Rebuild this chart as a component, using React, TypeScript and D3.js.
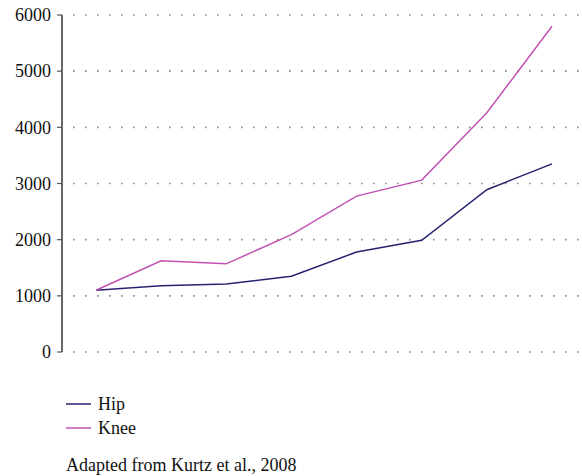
import React from 'react';
import * as d3 from 'd3';

const steps = [1, 2, 3, 4, 5, 6, 7, 8];
const hip = [1100, 1180, 1210, 1350, 1780, 1990, 2890, 3350];
const knee = [1100, 1625, 1570, 2090, 2775, 3060, 4260, 5800];
const yTicks = [0, 1000, 2000, 3000, 4000, 5000, 6000];
const seriesNames = ['Hip', 'Knee'];
const seriesColors = ['#26246f', '#c253b3'];

const width = 582;
const height = 476;
const font = "'Times New Roman', Times, Tinos, 'Liberation Serif', 'Noto Serif', 'DejaVu Serif', serif";

export default function App() {
  const x = d3.scalePoint<number>().domain(steps).range([96, 552]);
  const y = d3.scaleLinear().domain([0, 6000]).range([352, 15]);

  const line = d3
    .line<number>()
    .x((_, i) => x(steps[i]) as number)
    .y((d) => y(d));

  const series = [hip, knee];
  const txt: React.CSSProperties = { fontFamily: font, fontSize: 18 };

  return (
    <svg
      width={width}
      height={height}
      style={{ position: 'absolute', left: 0, top: 0, background: '#fff' }}
    >
      {/* grid */}
      {yTicks.map((t) => (
        <line
          key={'g' + t}
          x1={73}
          x2={582}
          y1={y(t)}
          y2={y(t)}
          stroke="#888"
          strokeWidth={1.6}
          strokeDasharray="1.6 10.4"
        />
      ))}
      {/* axis */}
      <line x1={62} x2={62} y1={y(6000)} y2={y(0)} stroke="#555" strokeWidth={1.8} />
      {yTicks.map((t) => (
        <g key={'t' + t}>
          <line x1={57} x2={62} y1={y(t)} y2={y(t)} stroke="#555" strokeWidth={1.2} />
          <text x={51} y={y(t)} dy="0.35em" textAnchor="end" style={txt} fill="#111">
            {t}
          </text>
        </g>
      ))}
      {/* lines */}
      {series.map((s, i) => (
        <path
          key={seriesNames[i]}
          d={line(s) ?? ''}
          fill="none"
          stroke={seriesColors[i]}
          strokeWidth={1.5}
        />
      ))}
      {/* legend */}
      {seriesNames.map((n, i) => (
        <g key={'l' + n} transform={`translate(66, ${404 + i * 24})`}>
          <line x1={0} x2={25} y1={0} y2={0} stroke={seriesColors[i]} strokeWidth={1.5} />
          <text x={32} y={0} dy="0.32em" style={txt} fill="#111">
            {n}
          </text>
        </g>
      ))}
      <text x={66} y={471} style={txt} fill="#111">
        Adapted from Kurtz et al., 2008
      </text>
    </svg>
  );
}
